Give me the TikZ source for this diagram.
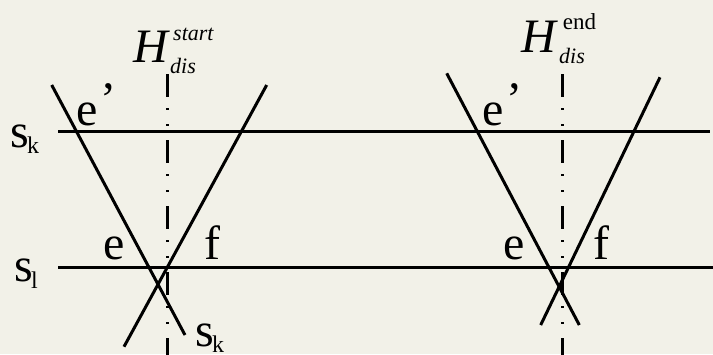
\documentclass[tikz,border=0pt]{standalone}
\usepackage{fontspec}
\setmainfont{Liberation Serif}
\definecolor{bgc}{RGB}{242,241,232}
\tikzset{
  mainline/.style={line width=3pt, black},
  axisline/.style={line width=2.5pt, black, dash pattern=on 23pt off 11pt on 2pt off 14pt on 2pt off 14pt},
  lbl/.style={inner sep=0pt, anchor=base west, font=\fontsize{48}{52}\selectfont},
  sublbl/.style={inner sep=0pt, anchor=base west, font=\fontsize{24}{26}\selectfont},
  hlbl/.style={inner sep=0pt, anchor=base west, font=\fontsize{48}{52}\selectfont\itshape},
  supi/.style={inner sep=0pt, anchor=base west, font=\fontsize{22}{24}\selectfont\itshape},
  supu/.style={inner sep=0pt, anchor=base west, font=\fontsize{23}{25}\selectfont},
}
\begin{document}
\begin{tikzpicture}[x=1pt, y=-1pt]
\fill[bgc] (0,0) rectangle (713,354);
\useasboundingbox (0,0) rectangle (713,354);
% horizontal lines
\coordinate (k0) at (58,131);
\coordinate (k1) at (710,131);
\coordinate (l0) at (58,267.7);
\coordinate (l1) at (713,267.7);
\draw[mainline] (k0) -- (k1);
\draw[mainline] (l0) -- (l1);
% left figure
\coordinate (La) at (51.7,85);
\coordinate (Lb) at (185,335);
\coordinate (Lc) at (266.7,85);
\coordinate (Ld) at (124,346.7);
\coordinate (Lv0) at (167.7,74);
\coordinate (Lv1) at (167.7,360);
\draw[mainline] (La) -- (Lb);
\draw[mainline] (Lc) -- (Ld);
\draw[axisline] (Lv0) -- (Lv1);
% right figure
\coordinate (Ra) at (446.7,73.3);
\coordinate (Rb) at (579.3,325);
\coordinate (Rc) at (660,77.3);
\coordinate (Rd) at (540.7,325);
\coordinate (Rv0) at (562.7,74);
\coordinate (Rv1) at (562.7,360);
\draw[mainline] (Ra) -- (Rb);
\draw[mainline] (Rc) -- (Rd);
\draw[axisline] (Rv0) -- (Rv1);
% left labels
\node[lbl] (sk) at (10,147) {s};
\node[sublbl] (skk) at (27,153) {k};
\node[lbl] (sl) at (14,281.7) {s};
\node[sublbl] (sll) at (31,288) {l};
\node[hlbl] (H1) at (133,62) {H};
\node[supi] (H1s) at (173,40) {start};
\node[supi] (H1d) at (170,73) {dis};
\node[lbl] (e1p) at (76.7,125) {e};
\node[lbl] (p1) at (100,125) {\raisebox{10pt}{’}};
\node[lbl] (e1) at (103,259.3) {e};
\node[lbl] (f1) at (204,259.3) {f};
\node[lbl] (skb) at (195,346.7) {s};
\node[sublbl] (skbk) at (212,352) {k};
% right labels
\node[hlbl] (H2) at (521.7,52) {H};
\node[supu] (H2s) at (562.7,29) {end};
\node[supi] (H2d) at (559,63) {dis};
\node[lbl] (e2p) at (482.7,125) {e};
\node[lbl] (p2) at (506,125) {\raisebox{10pt}{’}};
\node[lbl] (e2) at (503,259.3) {e};
\node[lbl] (f2) at (593,259.3) {f};
\end{tikzpicture}
\end{document}
